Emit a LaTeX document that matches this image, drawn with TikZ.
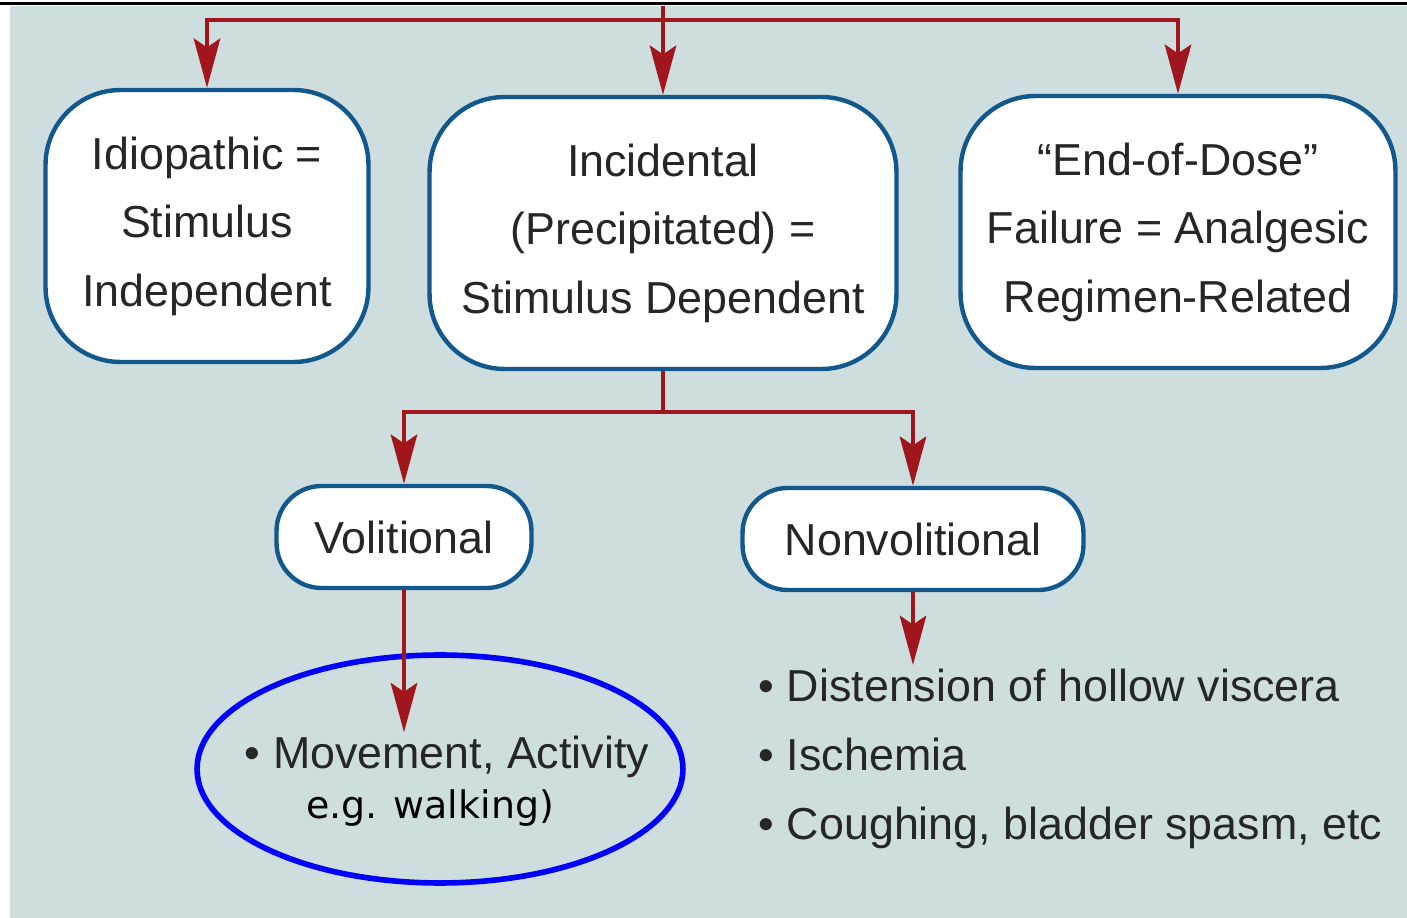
\documentclass[tikz,border=0pt]{standalone}
\usepackage{fontspec}
\setmainfont{Liberation Sans}
\newfontfamily\notefont{DejaVu Sans}
\usepackage{tikz}
\usetikzlibrary{positioning, arrows.meta, shapes.geometric}
\definecolor{panel}{RGB}{206,222,223}
\definecolor{wirered}{RGB}{160,22,28}
\definecolor{boxblue}{RGB}{18,88,140}
\definecolor{inkgray}{RGB}{38,38,38}
\tikzset{
  box/.style={draw=boxblue, line width=2.5pt, fill=white, align=center, text=inkgray, font=\fontsize{25.5}{39}\selectfont, inner sep=2pt},
  bigbox/.style={box, rounded corners=1.5cm, minimum height=5.44cm},
  smallbox/.style={box, rounded corners=0.9cm, minimum height=2.04cm},
  wire/.style={draw=wirered, line width=2.5pt},
  flow/.style={wire, -{Stealth[length=28pt, width=15pt, inset=5pt]}},
  listtext/.style={align=left, text=inkgray, font=\fontsize{25.5}{39.4}\selectfont, inner sep=2pt},
  ring/.style={ellipse, draw=blue, line width=3.2pt, minimum width=9.72cm, minimum height=4.56cm},
}

\begin{document}
\begin{tikzpicture}[x=0.02cm, y=-0.02cm]
  \useasboundingbox (0,0) rectangle (1407,918);
  \fill[panel] (10,6) rectangle (1407,918);
  \draw[line width=2.2pt] (0,3.5) -- (1407,3.5);

  \node[bigbox, minimum width=6.46cm] (idio) at (207,226) {Idiopathic =\\Stimulus\\Independent};
  \node[bigbox, minimum width=9.34cm] (inci) at (663,233) {Incidental\\(Precipitated) =\\Stimulus Dependent};
  \node[bigbox, minimum width=8.7cm] (eod) at (1178,232) {“End-of-Dose”\\Failure = Analgesic\\Regimen-Related};
  \node[smallbox, minimum width=5.1cm] (vol) at (404,537) {Volitional};
  \node[smallbox, minimum width=6.82cm] (nonvol) at (913,539) {Nonvolitional};

  \node[ring] (hl) at (440,769) {};
  \node[listtext] (mov) at (447,757) {• Movement, Activity};
  \node[listtext, font=\notefont\fontsize{21.6}{26}\selectfont, text=black] (walk) at (430,808) {e.g. walking)};
  \node[listtext, anchor=north west] (causes) at (755,665) {• Distension of hollow viscera\\• Ischemia\\• Coughing, bladder spasm, etc};

  \coordinate (src) at (663,6);
  \coordinate (top) at (663,20);
  \coordinate (fork) at (663,412);
  \draw[wire] (src) -- (top);
  \foreach \n in {idio, inci, eod} \draw[flow] (top) -| (\n.north);
  \draw[wire] (inci.south) -- (fork);
  \foreach \n in {vol, nonvol} \draw[flow] (fork) -| (\n.north);
  \draw[flow] (vol.south) -- (vol.south |- mov.north);
  \draw[flow] (nonvol.south) -- (nonvol.south |- causes.north);
\end{tikzpicture}
\end{document}
